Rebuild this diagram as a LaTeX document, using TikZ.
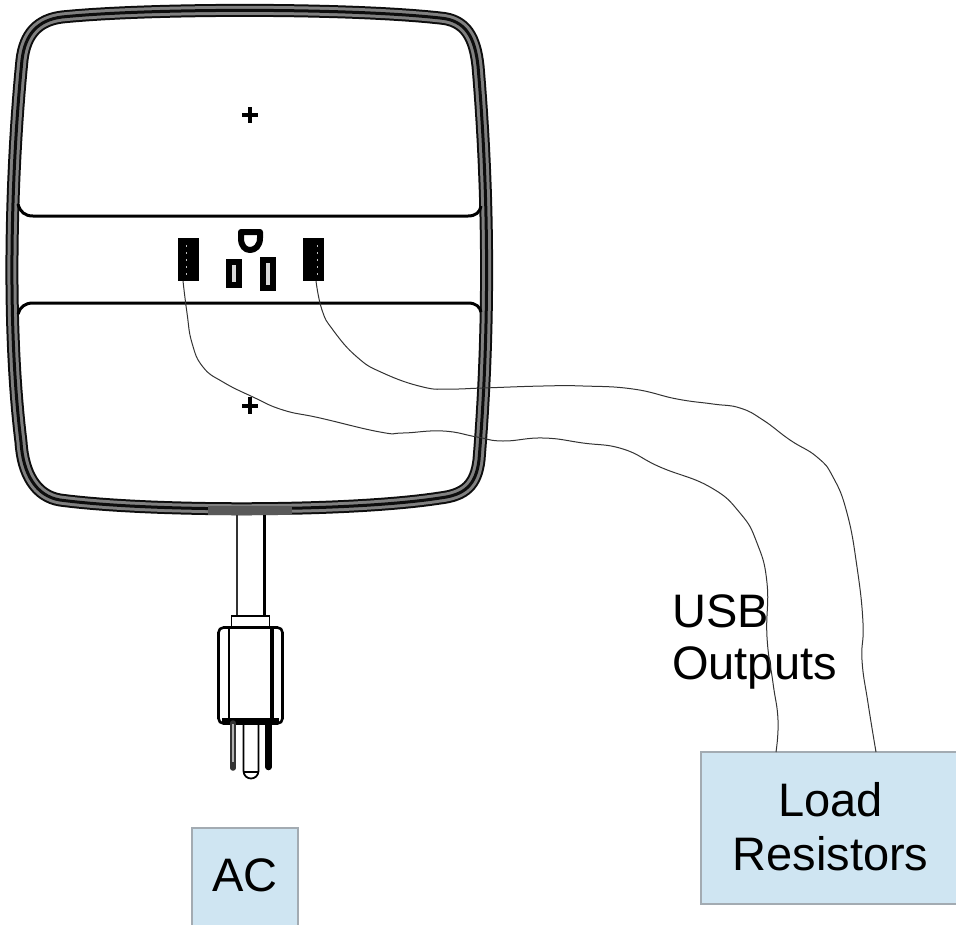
\documentclass[tikz,border=0pt]{standalone}
\usepackage{fontspec}
\setmainfont{Liberation Sans}
\usepackage{tikz}
\usetikzlibrary{positioning}
\definecolor{loadblue}{rgb}{0.81,0.90,0.95}
\definecolor{boxedge}{rgb}{0.64,0.67,0.70}

\begin{document}
\begin{tikzpicture}[
		x=1pt, y=-1pt,
		box/.style={draw=boxedge, line width=1.6pt, fill=loadblue, inner sep=0pt, align=center, font=\fontsize{47}{54}\selectfont},
		jack/.style={draw=black, line width=1pt, fill=black, inner sep=0pt, minimum width=20pt, minimum height=42pt},
		blade/.style={draw=black, line width=6pt, fill=black!15, inner sep=0pt, minimum width=10pt},
		wire/.style={draw=black!80, line width=1pt},
		caption/.style={inner sep=0pt, align=left, font=\fontsize{47}{52}\selectfont},
		screwhole/.style={line width=4.5pt},
		housing/.style={insert path={(62,17) .. controls (150,8) and (350,8) .. (440,18) .. controls (466,20) and (475,38) .. (478,66) .. controls (486,160) and (492,300) .. (479,460) .. controls (476,485) and (465,495) .. (440,498) .. controls (350,512) and (150,512) .. (60,500) .. controls (36,496) and (23,474) .. (21,442) .. controls (6,320) and (12,160) .. (22,60) .. controls (25,34) and (38,20) .. (62,17) -- cycle}}
	]
	\useasboundingbox (0,0) rectangle (956,924);

	% --- Housing ---
	\draw[housing, line width=13pt, black!95];
	\draw[housing, line width=9pt, black!50];
	\draw[housing, line width=3pt, black!95];

	\draw[line width=3pt] (18,204) .. controls (20,212) and (25,216) .. (33,216) -- (468,216) .. controls (476,216) and (480,212) .. (481,206);
	\draw[line width=3pt] (18,314) .. controls (20,307) and (25,303) .. (33,303) -- (468,303) .. controls (476,303) and (480,307) .. (481,312);

	% --- Screw holes ---
	\draw[screwhole] (242,115) -- (258,115) (250,107) -- (250,123);
	\draw[screwhole] (242,406) -- (258,406) (250,397) -- (250,414);

	% --- Sockets ---
	\node (usbleft) [jack] at (188.5,259.5) {};
	\node (usbright) [jack] at (313.5,259.5) {};
	\draw[white!75!black, line width=1pt, dash pattern=on 2pt off 5pt] (186,245) -- (186,275);
	\draw[white!75!black, line width=1pt, dash pattern=on 2pt off 5pt] (317,245) -- (317,275);
	\node (bladeleft) [blade, minimum height=23pt] at (234,273.5) {};
	\node (bladeright) [blade, minimum height=28pt] at (268,274) {};
	\draw[line width=6pt, line join=round] (241,232) -- (260,232) -- (260,238) .. controls (260,246) and (255,250) .. (250,250) .. controls (245,250) and (241,246) .. (241,238) -- cycle;

	% --- Cord and plug ---
	\fill[black!65] (208,506) rectangle (292,515);
	\draw[line width=1.8pt, black!80] (237,515) -- (237,616);
	\draw[line width=3pt] (264,515) -- (264,616);
	\node (collar) [draw, line width=1.6pt, minimum width=38pt, minimum height=11pt, inner sep=0pt] at (250.5,621.5) {};
	\node (plug) [draw, line width=2.6pt, rounded corners=5pt, minimum width=64pt, minimum height=96pt, inner sep=0pt] at (250.5,675.5) {};
	\draw[line width=1.6pt] (229,627) -- (229,723);
	\draw[line width=4pt] (272,627) -- (272,723);
	\draw[line width=5pt] (222,720) -- (279,720);
	\draw[line width=5.5pt, black!80, line cap=round] (233,723) -- (233,768);
	\draw[line width=1.6pt, white!70!black] (233,724) -- (233,762);
	\draw[line width=1.8pt] (243.5,723) -- (243.5,771) .. controls (244,781) and (258,781) .. (258.5,771) -- (258.5,723);
	\draw[line width=1.2pt] (244,772) -- (258,772);
	\draw[line width=6.5pt, line cap=round] (268.5,723) -- (268.5,767);

	% --- Boxes ---
	\node (ac) [box, anchor=north west, minimum width=106pt, text height=64pt, text depth=40pt] at (191,827) {AC};
	\node (load) [box, minimum width=259pt, minimum height=152pt] at (830.5,828) {Load\\Resistors\rule[-4pt]{0pt}{1pt}};

	\node (usbout) [caption, anchor=north west] at (672,594) {USB\\Outputs};

	% --- Wires ---
	\coordinate (tapleft) at (183,281);
	\coordinate (tapright) at (316,281);
	\coordinate (loadleft) at (776,752);
	\coordinate (loadright) at (876,752);

	\draw[wire] plot[smooth, tension=0.8] coordinates {(tapleft) (187,313) (192,343) (203,367) (223,382) (253,397) (283,410) (320,418) (380,432) (403,433) (443,431) (477,437) (503,441) (543,438) (583,443) (623,449) (660,467) (710,487) (740,513) (757,543) (767,583) (767,637) (773,683) (778,720) (loadleft)};
	\draw[wire] plot[smooth, tension=0.8] coordinates {(tapright) (322,310) (333,330) (357,357) (383,373) (423,387) (450,389) (483,388) (543,386) (583,386) (633,389) (677,399) (713,404) (740,408) (763,420) (790,440) (817,457) (833,477) (847,513) (857,567) (863,623) (862,660) (868,703) (loadright)};

\end{tikzpicture}
\end{document}
